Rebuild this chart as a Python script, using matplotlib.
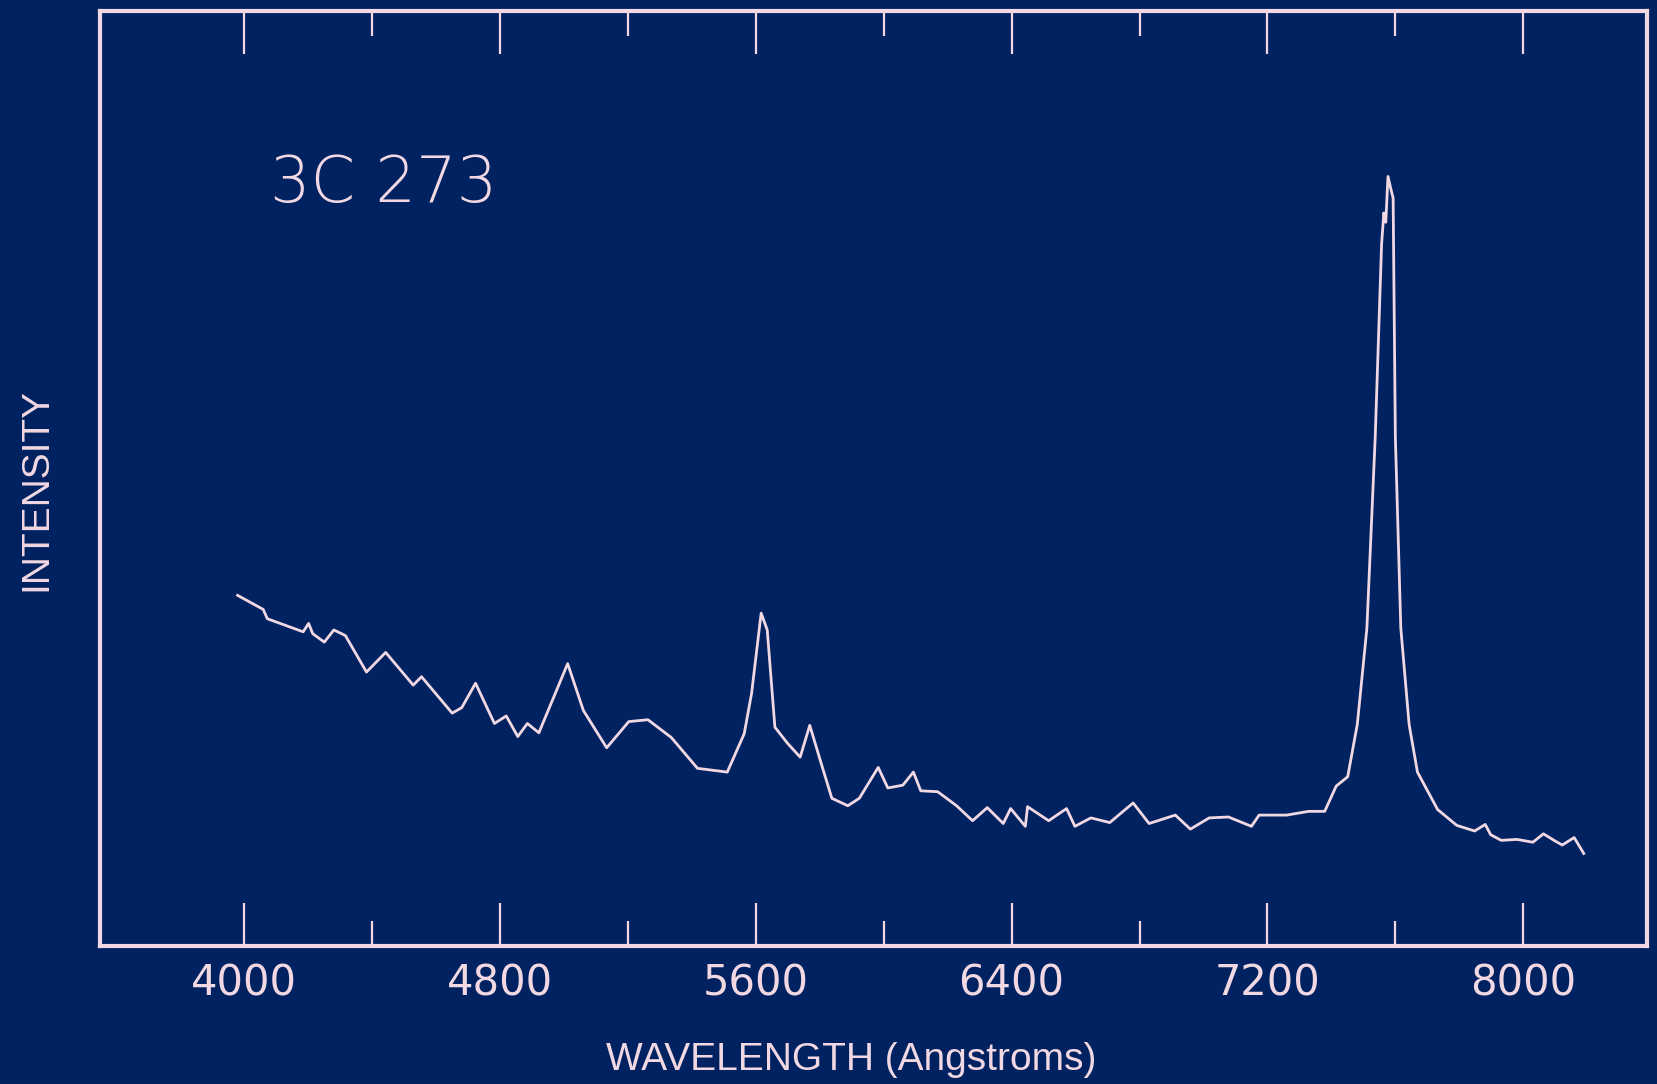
import matplotlib.pyplot as plt
from matplotlib.ticker import FixedLocator

# spectrum of 3C 273 (intensity in arbitrary units, 0-100)
wavelength = [3980, 4060, 4073, 4185, 4202, 4215, 4251, 4281, 4317, 4383,
              4443, 4529, 4555, 4651, 4681, 4724, 4783, 4820, 4856, 4886,
              4922, 5012, 5061, 5134, 5203, 5263, 5336, 5418, 5511, 5564,
              5587, 5617, 5636, 5660, 5699, 5739, 5769, 5805, 5838, 5888,
              5924, 5983, 6013, 6060, 6093, 6116, 6169, 6228, 6278, 6324,
              6374, 6397, 6443, 6450, 6516, 6572, 6598, 6648, 6707, 6780,
              6830, 6912, 6959, 7018, 7078, 7150, 7174, 7260, 7329, 7379,
              7415, 7451, 7481, 7511, 7537, 7557, 7564, 7570, 7577, 7587,
              7593, 7600, 7617, 7643, 7669, 7732, 7792, 7848, 7881, 7898,
              7931, 7980, 8030, 8063, 8096, 8122, 8159, 8189]
intensity = [37.5, 36.0, 35.0, 33.6, 34.5, 33.4, 32.5, 33.8, 33.2, 29.3,
             31.4, 27.9, 28.8, 24.9, 25.5, 28.1, 23.8, 24.6, 22.4, 23.8,
             22.8, 30.2, 25.2, 21.2, 24.0, 24.2, 22.3, 19.0, 18.6, 22.7,
             27.0, 35.6, 33.8, 23.4, 21.7, 20.2, 23.6, 19.5, 15.8, 15.0,
             15.8, 19.1, 16.9, 17.2, 18.6, 16.6, 16.5, 15.0, 13.4, 14.8,
             13.1, 14.7, 12.8, 14.9, 13.4, 14.7, 12.8, 13.7, 13.2, 15.3,
             13.1, 14.0, 12.5, 13.7, 13.8, 12.8, 14.0, 14.0, 14.4, 14.4,
             17.1, 18.1, 23.7, 34.0, 54.4, 75.1, 78.4, 77.4, 82.3, 80.8,
             80.0, 54.4, 34.0, 23.7, 18.6, 14.6, 12.9, 12.3, 13.0, 11.9,
             11.3, 11.4, 11.1, 12.0, 11.3, 10.8, 11.6, 9.9]

tick_values = [4000, 4800, 5600, 6400, 7200, 8000]
minor_values = [4400, 5200, 6000, 6800, 7600]

bg = '#002260'
fg = '#f2d8e3'

fig = plt.figure(figsize=(16.57, 10.84), dpi=100, facecolor=bg)
ax = fig.add_axes([0.0604, 0.1273, 0.9336, 0.8626], facecolor=bg)

ax.plot(wavelength, intensity, color=fg, lw=2.0)

ax.set_xlim(3550, 8387)
ax.set_ylim(0, 100)

for s in ax.spines.values():
    s.set_color(fg)
    s.set_linewidth(3)

ax.set_xticks(tick_values)
ax.xaxis.set_minor_locator(FixedLocator(minor_values))
ax.set_yticks([])
ax.tick_params(axis='x', which='both', direction='in', top=True, bottom=True,
               color=fg, width=1.6, labelcolor=fg, labelsize=30, pad=12)
ax.tick_params(axis='x', which='major', length=31)
ax.tick_params(axis='x', which='minor', length=18)

ax.set_xlabel('WAVELENGTH (Angstroms)', color=fg, fontsize=28,
              family='Liberation Sans', va='center')
ax.xaxis.set_label_coords(0.4855, -0.122)
ax.set_ylabel('INTENSITY', color=fg, fontsize=28, family='Liberation Sans',
              va='center')
ax.yaxis.set_label_coords(-0.0414, 0.488)

ax.text(0.1836, 0.7957, '3C 273', transform=ax.transAxes, color=fg,
        fontsize=46, ha='center', va='baseline', fontweight='light')

fig.savefig('out.png', dpi=100, facecolor=bg)
